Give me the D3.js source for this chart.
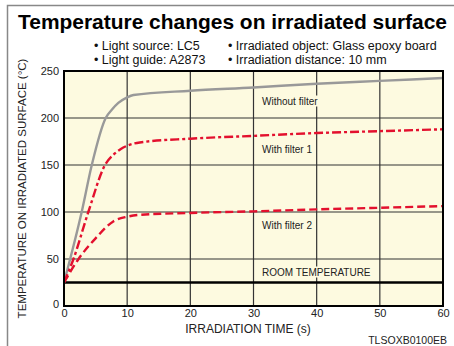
<!DOCTYPE html>
<html>
<head>
<meta charset="utf-8">
<script src="https://cdn.jsdelivr.net/npm/d3@7/dist/d3.min.js"></script>
<style>
  body { margin: 0; background: #fff; }
  svg { display: block; font-family: "Liberation Sans", Arial, sans-serif; }
  .tick text { font-size: 11px; fill: #222; }
  .lbl { font-size: 10px; fill: #222; }
</style>
</head>
<body>
<svg id="chart" width="454" height="346"></svg>
<script>
// data (time in s, temperature in degC)
var xTicks = [0, 10, 20, 30, 40, 50, 60];
var yTicks = [0, 50, 100, 150, 200, 250];
var roomTemp = 25;

var noFilterT = [0, 2.8, 4.4, 6.6, 7.6, 8.6, 10, 11, 20, 30, 40, 50, 60];
var noFilterV = [25, 100, 150, 200, 209, 216, 222, 224.5, 229, 232.5, 236.5, 239.5, 242.5];

var filter1T = [0, 1.5, 3.85, 6.5, 8, 9, 10, 12, 20, 30, 40, 50, 60];
var filter1V = [25, 50, 100, 150, 162, 167, 170.5, 174, 178, 181, 184, 186, 188];

var filter2T = [0, 2.3, 5, 7.8, 10, 12, 20, 30, 40, 50, 60];
var filter2V = [25, 50, 72, 90, 95, 97, 99, 100.7, 102.8, 104.5, 106.3];

var svg = d3.select("#chart");
var margin = { left: 64, top: 71, right: 11, bottom: 40 };
var W = 454, H = 346;

var x = d3.scaleLinear().domain([0, 60]).range([margin.left, W - margin.right]);
var y = d3.scaleLinear().domain([0, 250]).range([H - margin.bottom, margin.top]);

// frame
svg.append("path")
  .attr("d", "M7.5," + H + "V5.5H" + W)
  .attr("fill", "none").attr("stroke", "#888").attr("stroke-width", 1.5);

// title
svg.append("text").attr("x", 232.5).attr("y", 29)
  .attr("text-anchor", "middle")
  .attr("textLength", 429).attr("lengthAdjust", "spacingAndGlyphs")
  .style("font-size", "20.5px").style("font-weight", "bold")
  .text("Temperature changes on irradiated surface");

var sub = [["\u2022 Light source: LC5", 94, 50], ["\u2022 Irradiated object: Glass epoxy board", 228, 50],
           ["\u2022 Light guide: A2873", 94, 64], ["\u2022 Irradiation distance: 10 mm", 228, 64]];
svg.selectAll(".sub").data(sub).enter().append("text")
  .attr("x", function(d) { return d[1]; })
  .attr("y", function(d) { return d[2]; })
  .style("font-size", "12.5px").style("fill", "#111")
  .text(function(d) { return d[0]; });

// plot background
svg.append("rect")
  .attr("x", x(0)).attr("y", y(250))
  .attr("width", x(60) - x(0)).attr("height", y(0) - y(250))
  .attr("fill", "#fdfae0");

// grid
var g = svg.append("g");
g.selectAll(".gx").data(xTicks.slice(1, -1)).enter().append("line")
  .attr("x1", function(d) { return x(d); }).attr("x2", function(d) { return x(d); })
  .attr("y1", y(0)).attr("y2", y(250))
  .attr("stroke", "#333").attr("stroke-width", 1.2);
g.selectAll(".gy").data(yTicks.slice(1, -1)).enter().append("line")
  .attr("y1", function(d) { return y(d); }).attr("y2", function(d) { return y(d); })
  .attr("x1", x(0)).attr("x2", x(60))
  .attr("stroke", "#333").attr("stroke-width", 1.2);

// curve labels with background halo
var labels = [["Without filter", 101], ["With filter 1", 149], ["With filter 2", 225], ["ROOM TEMPERATURE", 272]];
labels.forEach(function(l) {
  var t = svg.append("text").attr("class", "lbl")
    .attr("x", 262).attr("y", l[1]).attr("dy", "0.35em").text(l[0]);
  var bb = t.node().getBBox();
  svg.insert("rect", function() { return t.node(); })
    .attr("x", bb.x - 1).attr("y", bb.y).attr("width", bb.width + 2).attr("height", bb.height)
    .attr("fill", "#fdfae0");
});

// room temperature line
svg.append("line")
  .attr("x1", x(0)).attr("x2", x(60))
  .attr("y1", y(roomTemp)).attr("y2", y(roomTemp))
  .attr("stroke", "#000").attr("stroke-width", 2.6);

var line = d3.line()
  .x(function(d) { return x(d[0]); })
  .y(function(d) { return y(d[1]); })
  .curve(d3.curveMonotoneX);

var series = [
  { t: noFilterT, v: noFilterV, color: "#999", dash: null },
  { t: filter1T, v: filter1V, color: "#e3102e", dash: "9,3,3,3" },
  { t: filter2T, v: filter2V, color: "#e3102e", dash: "8,4" }
];
series.forEach(function(s) {
  svg.append("path")
    .datum(d3.zip(s.t, s.v))
    .attr("d", line)
    .attr("fill", "none")
    .attr("stroke", s.color)
    .attr("stroke-width", 2.4)
    .attr("stroke-dasharray", s.dash);
});

// plot border
svg.append("rect")
  .attr("x", x(0)).attr("y", y(250))
  .attr("width", x(60) - x(0)).attr("height", y(0) - y(250))
  .attr("fill", "none").attr("stroke", "#000").attr("stroke-width", 2);

// axes
var yAxis = svg.append("g").attr("transform", "translate(" + (x(0) - 3) + ",0)")
  .call(d3.axisLeft(y).tickValues(yTicks).tickSize(0).tickPadding(2));
yAxis.select(".domain").remove();
yAxis.selectAll(".tick text").attr("dy", function(d) { return d === 0 ? "0.1em" : "0.35em"; });

var xAxis = svg.append("g").attr("transform", "translate(0," + y(0) + ")")
  .call(d3.axisBottom(x).tickValues(xTicks).tickSize(0).tickPadding(3));
xAxis.select(".domain").remove();

svg.append("text")
  .attr("transform", "translate(26," + ((y(0) + y(250)) / 2) + ") rotate(-90)")
  .attr("text-anchor", "middle")
  .style("font-size", "11.5px").style("fill", "#222")
  .text("TEMPERATURE ON IRRADIATED SURFACE (\u00b0C)");

svg.append("text").attr("x", 248).attr("y", 333)
  .attr("text-anchor", "middle")
  .style("font-size", "12px").style("fill", "#222")
  .text("IRRADIATION TIME (s)");

svg.append("text").attr("x", 447).attr("y", 344)
  .attr("text-anchor", "end")
  .style("font-size", "10.5px").style("fill", "#222")
  .text("TLSOXB0100EB");
</script>
</body>
</html>
